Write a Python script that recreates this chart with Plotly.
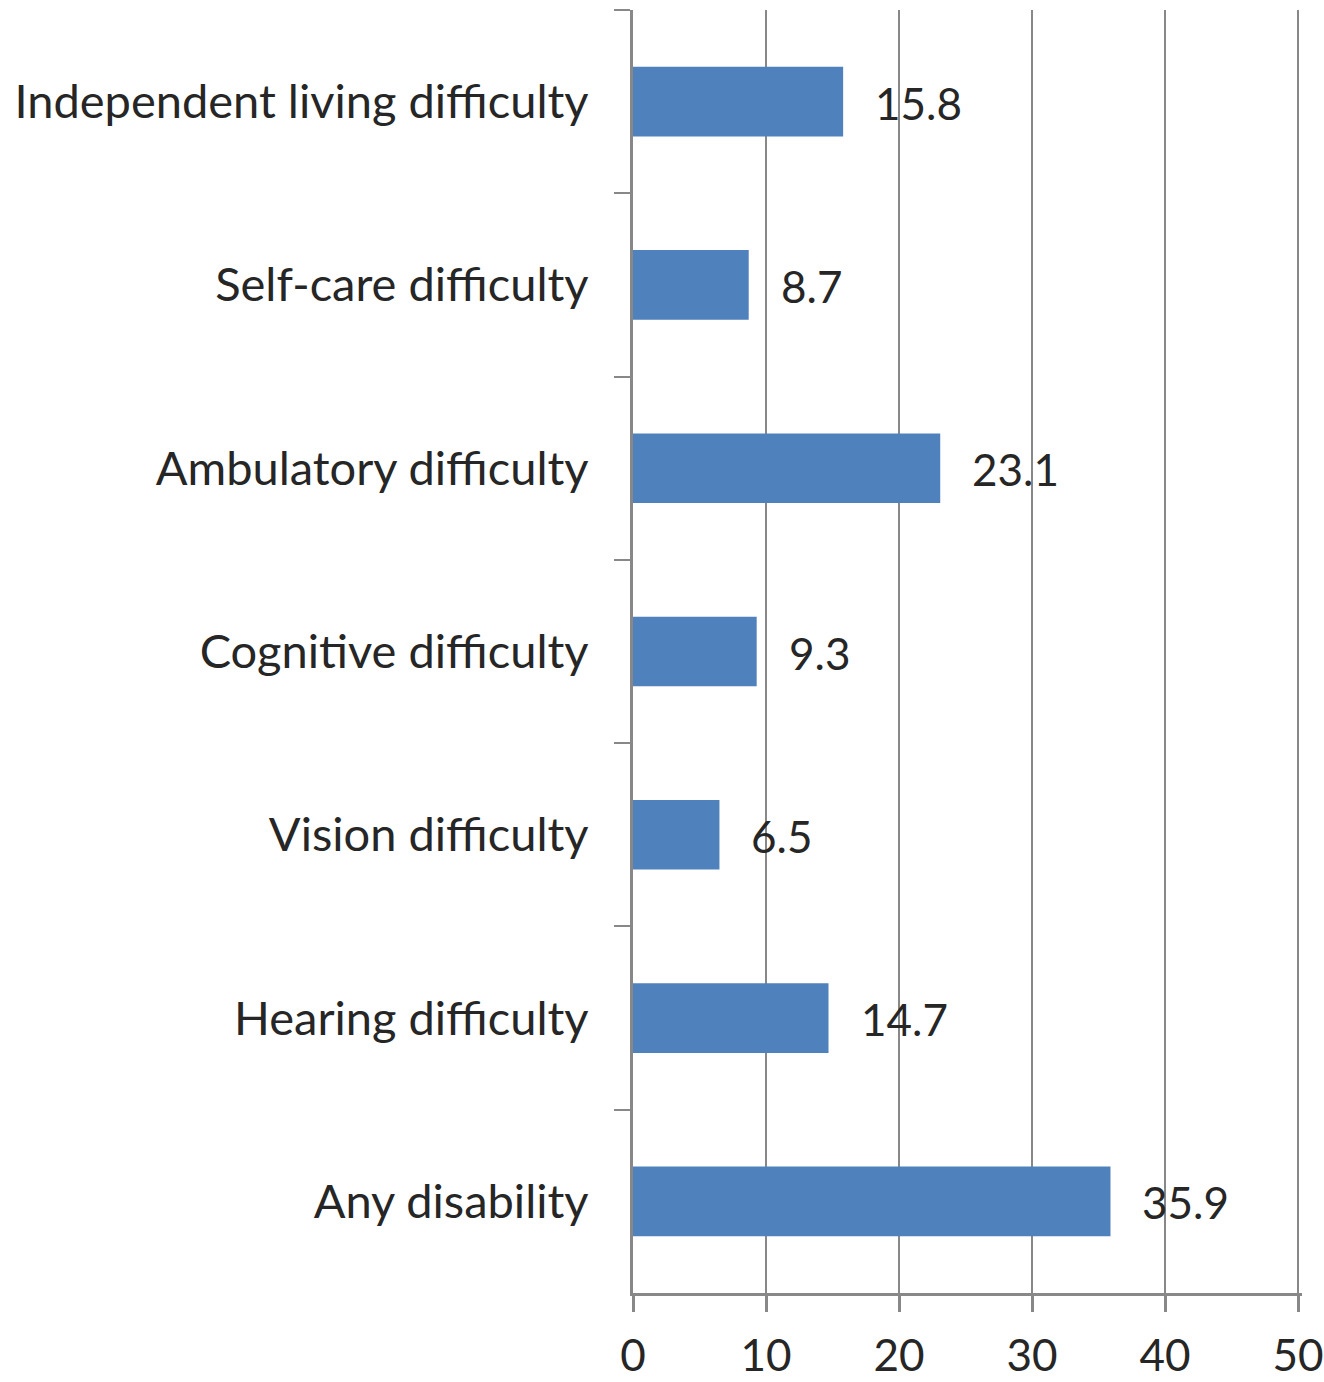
import plotly.graph_objects as go

categories = [
    "Independent living difficulty",
    "Self-care difficulty",
    "Ambulatory difficulty",
    "Cognitive difficulty",
    "Vision difficulty",
    "Hearing difficulty",
    "Any disability",
]
values = [15.8, 8.7, 23.1, 9.3, 6.5, 14.7, 35.9]
x_ticks = [0, 10, 20, 30, 40, 50]

BAR = "#4F81BD"
GRID = "#888888"
TEXT = "#262626"
FONT = "Lato"

fig = go.Figure(
    go.Bar(
        x=values,
        y=categories,
        orientation="h",
        marker=dict(color=BAR, line=dict(width=0)),
        width=0.38,
    )
)

for c, v in zip(categories, values):
    fig.add_annotation(
        x=v, y=c, text=f"{v:.1f}", showarrow=False,
        xanchor="left", yanchor="middle", xshift=30, yshift=-1,
        font=dict(family=FONT, size=44, color=TEXT),
    )

fig.update_layout(
    width=1324, height=1382,
    margin=dict(l=633, r=22, t=10, b=89, autoexpand=False),
    paper_bgcolor="white", plot_bgcolor="white",
    showlegend=False,
    font=dict(family=FONT, size=46, color=TEXT),
)
fig.update_xaxes(
    range=[0, 50.3], tickvals=x_ticks, ticktext=[str(t) for t in x_ticks],
    automargin=False, ticklabeloverflow="allow",
    showgrid=True, gridcolor=GRID, gridwidth=2,
    showline=True, linecolor=GRID, linewidth=3,
    ticks="outside", ticklen=16, tickwidth=3, tickcolor=GRID,
    ticklabelstandoff=6,
    zeroline=False,
    tickfont=dict(family=FONT, size=44, color=TEXT),
)
fig.update_yaxes(
    range=[6.5, -0.5], type="category",
    automargin=False,
    showgrid=False,
    showline=True, linecolor=GRID, linewidth=3,
    ticks="outside", tickson="boundaries", ticklen=16, tickwidth=2, tickcolor=GRID,
    ticklabelstandoff=32,
    tickfont=dict(family=FONT, size=47, color=TEXT),
)

# remove the page's default body margin so the figure fills the window exactly
fig.write_html(
    "out.html",
    config={"displayModeBar": False},
    post_script="document.body.style.margin='0';document.body.style.overflow='hidden';",
)
